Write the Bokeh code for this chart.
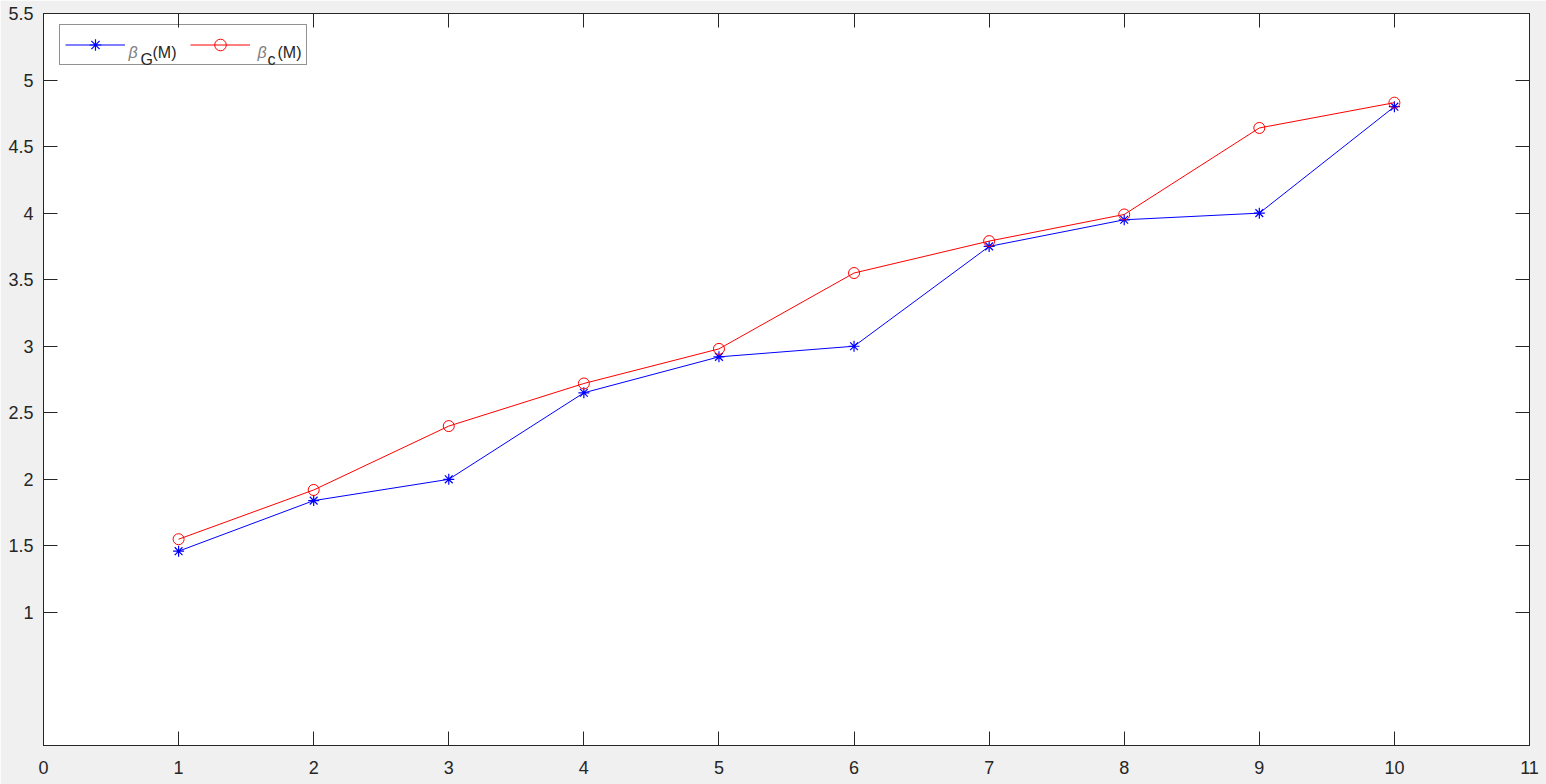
from bokeh.plotting import figure
from bokeh.models import (Range1d, FixedTicker, LinearAxis, Legend, LegendItem, Label,
                          CustomLabelingPolicy)
from bokeh.embed import file_html
from bokeh.resources import INLINE

# ---- data ----
x_vals = [1, 2, 3, 4, 5, 6, 7, 8, 9, 10]
beta_G = [1.46, 1.84, 2.00, 2.65, 2.92, 3.00, 3.75, 3.95, 4.00, 4.80]
beta_c = [1.55, 1.92, 2.40, 2.72, 2.98, 3.55, 3.79, 3.99, 4.64, 4.83]
x_ticks = [0, 1, 2, 3, 4, 5, 6, 7, 8, 9, 10, 11]
y_ticks = [1, 1.5, 2, 2.5, 3, 3.5, 4, 4.5, 5, 5.5]
y_tick_labels = ["1", "1.5", "2", "2.5", "3", "3.5", "4", "4.5", "5", "5.5"]

AX = "#262626"
FONT = "Liberation Sans"
FS = "18px"

p = figure(width=1546, height=784, output_backend="svg", toolbar_location=None,
           x_range=Range1d(0, 11), y_range=Range1d(0, 5.5),
           min_border_left=43, min_border_right=17, min_border_top=13, min_border_bottom=39,
           background_fill_color="white", border_fill_color="#f0f0f0",
           outline_line_color=AX, outline_line_width=1)
p.xgrid.visible = False
p.ygrid.visible = False

hide_labels = "for (const i of indices) { indices.unset(i) }\nreturn indices"


def style(ax, ticks, labels=True, standoff=10):
    ax.ticker = FixedTicker(ticks=ticks)
    ax.major_tick_in = 14
    ax.major_tick_out = 0
    ax.minor_tick_in = 0
    ax.minor_tick_out = 0
    ax.axis_line_color = AX
    ax.major_tick_line_color = AX
    ax.major_label_text_color = "#262626"
    ax.major_label_text_font = FONT
    ax.major_label_text_font_size = FS if labels else "0px"
    ax.major_label_standoff = standoff if labels else 0
    if not labels:
        ax.major_label_policy = CustomLabelingPolicy(code=hide_labels)


style(p.xaxis[0], x_ticks, standoff=15)
style(p.yaxis[0], y_ticks, standoff=10)
p.yaxis[0].major_label_overrides = {t: s for t, s in zip(y_ticks, y_tick_labels)}

top = LinearAxis()
style(top, x_ticks, labels=False)
p.add_layout(top, "above")
right = LinearAxis()
style(right, y_ticks, labels=False)
p.add_layout(right, "right")

l1 = p.line(x_vals, beta_G, line_color="#0000ff", line_width=1)
m1 = p.scatter(x_vals, beta_G, marker="asterisk", size=11, line_color="#0000ff", line_width=1.2)
l2 = p.line(x_vals, beta_c, line_color="#ff0000", line_width=1)
m2 = p.scatter(x_vals, beta_c, marker="circle", size=11, line_color="#ff0000",
               fill_color=None, line_width=1)

legend = Legend(items=[LegendItem(label=" ", renderers=[l1, m1]),
                       LegendItem(label=" ", renderers=[l2, m2])],
                orientation="horizontal", location=(16, 680), margin=0,
                padding=5, spacing=14, glyph_width=60, glyph_height=29,
                label_width=48, label_standoff=3, label_text_font_size="8px",
                border_line_color=AX, border_line_width=1,
                background_fill_alpha=0)
p.add_layout(legend, "center")

legend_texts = [
    ("β", 85, 693, "italic", "#808080"),
    ("G", 97, 686, "normal", "#262626"),
    ("(M)", 109, 693, "normal", "#262626"),
    ("β", 214, 693, "italic", "#808080"),
    ("c", 224, 686, "normal", "#262626"),
    ("(M)", 234, 693, "normal", "#262626"),
]
for txt, sx, sy, st, col in legend_texts:
    p.add_layout(Label(text=txt, x=sx, y=sy, x_units="screen", y_units="screen",
                       text_font=FONT, text_font_size="16px", text_font_style=st,
                       text_color=col, text_baseline="alphabetic", text_align="left",
                       level="overlay"))

open("out.html", "w").write(file_html(p, INLINE))
